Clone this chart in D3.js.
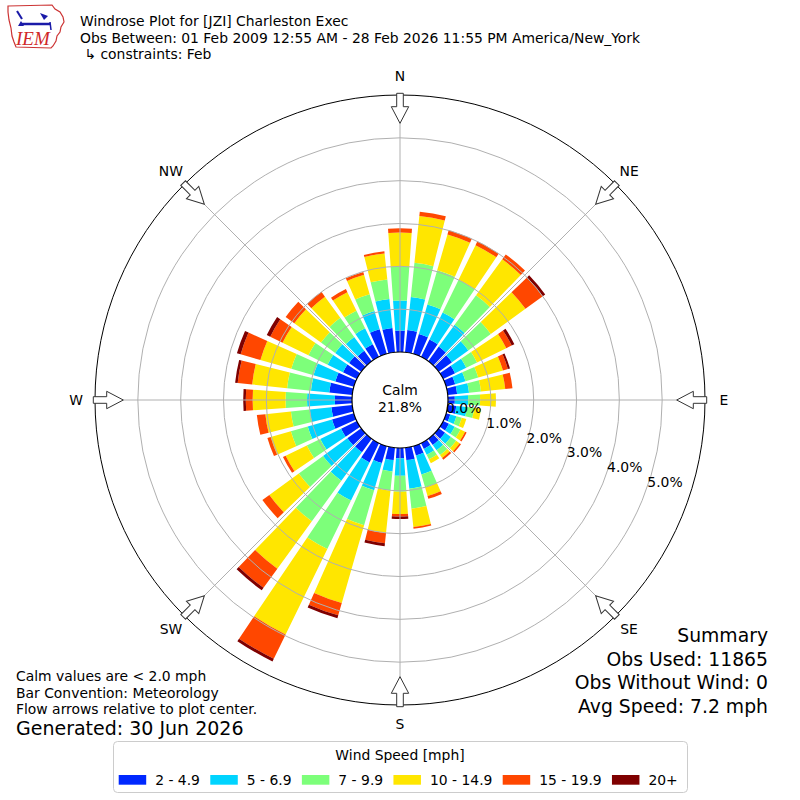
<!DOCTYPE html>
<html>
<head>
<meta charset="utf-8">
<script src="https://cdn.jsdelivr.net/npm/d3@7"></script>
<style>
  body { margin: 0; background: #fff; }
  svg { display: block; font-family: "DejaVu Sans", sans-serif; }
</style>
</head>
<body>
<div id="chart"></div>
<script>
// direction bins (degrees, meteorological: where the wind comes from)
const directions = [0, 10, 20, 30, 40, 50, 60, 70, 80, 90, 100, 110, 120, 130, 140, 150, 160, 170,
  180, 190, 200, 210, 220, 230, 240, 250, 260, 270, 280, 290, 300, 310, 320, 330, 340, 350];

const speedBins = ["2 - 4.9", "5 - 6.9", "7 - 9.9", "10 - 14.9", "15 - 19.9", "20+"];
const binColors = ["#0028ff", "#00d4ff", "#7dff7a", "#ffe600", "#ff4700", "#7f0000"];

// frequency [%] per direction, one array per speed bin
const bin2to5 = [0.50, 0.52, 0.48, 0.45, 0.42, 0.38, 0.31, 0.22, 0.22, 0.16, 0.20, 0.10, 0.15, 0.18, 0.18, 0.15, 0.23, 0.29,
  0.24, 0.29, 0.41, 0.50, 0.39, 0.40, 0.41, 0.53, 0.49, 0.40, 0.54, 0.45, 0.36, 0.35, 0.30, 0.33, 0.60, 0.57];
const bin5to7 = [0.70, 0.78, 0.72, 0.70, 0.63, 0.47, 0.29, 0.25, 0.28, 0.31, 0.25, 0.15, 0.15, 0.17, 0.15, 0.15, 0.46, 0.67,
  0.41, 0.27, 0.66, 0.99, 0.82, 0.70, 0.54, 0.59, 0.51, 0.65, 0.43, 0.53, 0.40, 0.40, 0.40, 0.41, 0.44, 0.68];
const bin7to10 = [0.80, 0.80, 0.83, 0.85, 0.85, 0.65, 0.28, 0.31, 0.28, 0.28, 0.17, 0.13, 0.15, 0.15, 0.14, 0.12, 0.31, 0.47,
  0.37, 0.45, 0.85, 1.26, 1.17, 0.70, 0.35, 0.41, 0.44, 0.50, 0.56, 0.54, 0.50, 0.41, 0.55, 0.46, 0.41, 0.46];
const bin10to15 = [0.79, 1.10, 0.87, 0.90, 1.04, 1.00, 0.76, 0.60, 0.57, 0.37, 0.16, 0.11, 0.12, 0.10, 0.08, 0.10, 0.21, 0.43,
  0.52, 0.99, 1.89, 2.22, 1.37, 0.85, 0.55, 0.49, 0.60, 0.77, 0.82, 0.75, 0.67, 0.77, 0.61, 0.48, 0.47, 0.61];
const bin15to20 = [0.10, 0.10, 0.10, 0.10, 0.14, 0.50, 0.14, 0.12, 0.17, 0.00, 0.00, 0.00, 0.04, 0.04, 0.05, 0.00, 0.07, 0.04,
  0.06, 0.24, 0.30, 0.63, 0.55, 0.20, 0.07, 0.08, 0.20, 0.16, 0.34, 0.48, 0.32, 0.25, 0.14, 0.08, 0.07, 0.05];
const bin20plus = [0.00, 0.00, 0.00, 0.00, 0.00, 0.07, 0.07, 0.05, 0.00, 0.00, 0.00, 0.00, 0.00, 0.00, 0.00, 0.00, 0.00, 0.00,
  0.06, 0.07, 0.07, 0.07, 0.07, 0.00, 0.00, 0.00, 0.00, 0.06, 0.06, 0.09, 0.09, 0.00, 0.00, 0.00, 0.00, 0.00];
const binValues = [bin2to5, bin5to7, bin7to10, bin10to15, bin15to20, bin20plus];

const calmPercent = 21.8;
const ringTicks = [0, 1, 2, 3, 4, 5];
const gridRings = [1, 2, 3, 4, 5];
const compassLabels = ["N", "NE", "E", "SE", "S", "SW", "W", "NW"];
const compassAngles = [0, 45, 90, 135, 180, 225, 270, 315];

const titleLines = [
  "Windrose Plot for [JZI] Charleston Exec",
  "Obs Between: 01 Feb 2009 12:55 AM - 28 Feb 2026 11:55 PM America/New_York",
  "\u00a0\u21b3 constraints: Feb",
];
const noteLines = ["Calm values are < 2.0 mph", "Bar Convention: Meteorology", "Flow arrows relative to plot center."];
const generatedText = "Generated: 30 Jun 2026";
const summaryLines = ["Summary", "Obs Used: 11865", "Obs Without Wind: 0", "Avg Speed: 7.2 mph"];

const width = 800;
const height = 800;
const cx = 400;
const cy = 400;
const barWidth = 8; // degrees, of the 10 degree bin

const toRad = (deg) => (deg * Math.PI) / 180;

const r = d3.scaleLinear().domain([0, 6]).range([48, 305]);

const svg = d3
  .select("#chart")
  .append("svg")
  .attr("width", width)
  .attr("height", height);

svg.append("rect").attr("width", width).attr("height", height).attr("fill", "#fff");

// ---- logo
const logo = svg.append("g");
logo
  .append("path")
  .attr("d", "M8,6 L52,5 L55,9 L60,12 L63,17 L64,22 L61,27 L60,32 L57,36 L56,41 L53,46 L51,48 L16,47 L14,42 L12,36 L11,28 L9,20 L8,12 Z")
  .attr("fill", "none")
  .attr("stroke", "#cc3333")
  .attr("stroke-width", 1.2);
logo.append("path").attr("d", "M17,11 L22,19").attr("stroke", "#1a1aa8").attr("stroke-width", 2);
logo.append("path").attr("d", "M20,24 L50,24").attr("stroke", "#1a1aa8").attr("stroke-width", 2.5);
logo.append("path").attr("d", "M18,26 L21,21 L24,26 Z").attr("fill", "#1a1aa8");
logo.append("path").attr("d", "M40,13 L48,16 L44,20 Z").attr("fill", "#1a1aa8");
logo.append("path").attr("d", "M50,22 L51,30").attr("stroke", "#1a1aa8").attr("stroke-width", 1.5);
logo
  .append("text")
  .attr("x", 16)
  .attr("y", 45)
  .style("font-family", "'Liberation Serif', serif")
  .style("font-style", "italic")
  .style("font-size", "19px")
  .style("fill", "#d02828")
  .text("IEM");

// ---- title
svg
  .append("g")
  .selectAll("text")
  .data(titleLines)
  .join("text")
  .attr("x", 80)
  .attr("y", (d, i) => 26 + i * 16.7)
  .style("font-size", "13.9px")
  .style("white-space", "pre")
  .text((d) => d);

// ---- rose
const rose = svg.append("g").attr("transform", `translate(${cx},${cy})`);

const rows = directions.map((dir, i) => {
  const row = { dir };
  speedBins.forEach((b, j) => (row[b] = binValues[j][i]));
  return row;
});
const series = d3.stack().keys(speedBins)(rows);

const arc = d3
  .arc()
  .innerRadius((d) => r(d[0]))
  .outerRadius((d) => r(d[1]))
  .startAngle((d) => toRad(d.data.dir - barWidth / 2))
  .endAngle((d) => toRad(d.data.dir + barWidth / 2));

rose
  .append("g")
  .selectAll("g")
  .data(series)
  .join("g")
  .attr("fill", (s, i) => binColors[i])
  .selectAll("path")
  .data((s) => s.filter((d) => d[1] - d[0] > 1e-9))
  .join("path")
  .attr("d", arc);

// grid on top of the bars (matplotlib default)
const grid = rose.append("g").attr("fill", "none").attr("stroke", "#b0b0b0").attr("stroke-width", 1);
grid
  .selectAll("circle")
  .data(gridRings)
  .join("circle")
  .attr("r", (d) => r(d));
grid
  .selectAll("line")
  .data(compassAngles)
  .join("line")
  .attr("x1", (a) => r(0) * Math.sin(toRad(a)))
  .attr("y1", (a) => -r(0) * Math.cos(toRad(a)))
  .attr("x2", (a) => r(6) * Math.sin(toRad(a)))
  .attr("y2", (a) => -r(6) * Math.cos(toRad(a)));

rose
  .append("circle")
  .attr("r", r(6))
  .attr("fill", "none")
  .attr("stroke", "#000")
  .attr("stroke-width", 1);

// calm circle
rose
  .append("circle")
  .attr("r", r(0))
  .attr("fill", "#fff")
  .attr("stroke", "#000")
  .attr("stroke-width", 1.2);
rose
  .append("text")
  .attr("text-anchor", "middle")
  .attr("y", -5)
  .style("font-size", "13.9px")
  .text("Calm");
rose
  .append("text")
  .attr("text-anchor", "middle")
  .attr("y", 12)
  .style("font-size", "13.9px")
  .text(calmPercent.toFixed(1) + "%");

// ring labels along 110 degrees
const labelAngle = toRad(110);
rose
  .append("g")
  .selectAll("text")
  .data(ringTicks)
  .join("text")
  .attr("x", (d) => r(d) * Math.sin(labelAngle) + 1)
  .attr("y", (d) => -r(d) * Math.cos(labelAngle) - 3)
  .style("font-size", "13.9px")
  .text((d) => d.toFixed(1) + "%");

// flow arrows, pointing to the plot center
const arrowShape = () => {
  const outer = r(6) + 1.7;
  const neck = r(6) - 11.7;
  const tip = r(6) - 28.3;
  const pts = [
    [-3.3, -outer],
    [3.3, -outer],
    [3.3, -neck],
    [8.7, -neck],
    [0, -tip],
    [-8.7, -neck],
    [-3.3, -neck],
  ];
  return "M" + pts.map((p) => p.join(",")).join("L") + "Z";
};
rose
  .append("g")
  .selectAll("path")
  .data(compassAngles)
  .join("path")
  .attr("d", arrowShape())
  .attr("transform", (a) => `rotate(${a})`)
  .attr("fill", "#fff")
  .attr("stroke", "#333")
  .attr("stroke-width", 1);

rose
  .append("g")
  .selectAll("text")
  .data(compassLabels)
  .join("text")
  .attr("x", (d, i) => (r(6) + 19) * Math.sin(toRad(compassAngles[i])))
  .attr("y", (d, i) => -(r(6) + 19) * Math.cos(toRad(compassAngles[i])))
  .attr("text-anchor", "middle")
  .attr("dominant-baseline", "central")
  .style("font-size", "13.9px")
  .text((d) => d);

// ---- notes bottom left
svg
  .append("g")
  .selectAll("text")
  .data(noteLines)
  .join("text")
  .attr("x", 16)
  .attr("y", (d, i) => 681 + i * 16.5)
  .style("font-size", "13.9px")
  .text((d) => d);
svg
  .append("text")
  .attr("x", 16)
  .attr("y", 734.5)
  .style("font-size", "19px")
  .text(generatedText);

// ---- summary bottom right
svg
  .append("g")
  .selectAll("text")
  .data(summaryLines)
  .join("text")
  .attr("x", 768)
  .attr("y", (d, i) => 642 + i * 23.6)
  .attr("text-anchor", "end")
  .style("font-size", "18.8px")
  .text((d) => d);

// ---- legend
const legend = svg.append("g");
legend
  .append("rect")
  .attr("x", 113.5)
  .attr("y", 741.5)
  .attr("width", 574)
  .attr("height", 51)
  .attr("rx", 4)
  .attr("fill", "#fff")
  .attr("stroke", "#cccccc")
  .attr("stroke-width", 1);
legend
  .append("text")
  .attr("x", 400)
  .attr("y", 760)
  .attr("text-anchor", "middle")
  .style("font-size", "13.9px")
  .text("Wind Speed [mph]");

let lx = 118.7;
speedBins.forEach((label, i) => {
  legend
    .append("rect")
    .attr("x", lx)
    .attr("y", 775)
    .attr("width", 27.5)
    .attr("height", 9.7)
    .attr("fill", binColors[i]);
  const t = legend
    .append("text")
    .attr("x", lx + 36.5)
    .attr("y", 785)
    .style("font-size", "13.9px")
    .text(label);
  lx = lx + 36.5 + t.node().getComputedTextLength() + 10.3;
});
</script>
</body>
</html>
